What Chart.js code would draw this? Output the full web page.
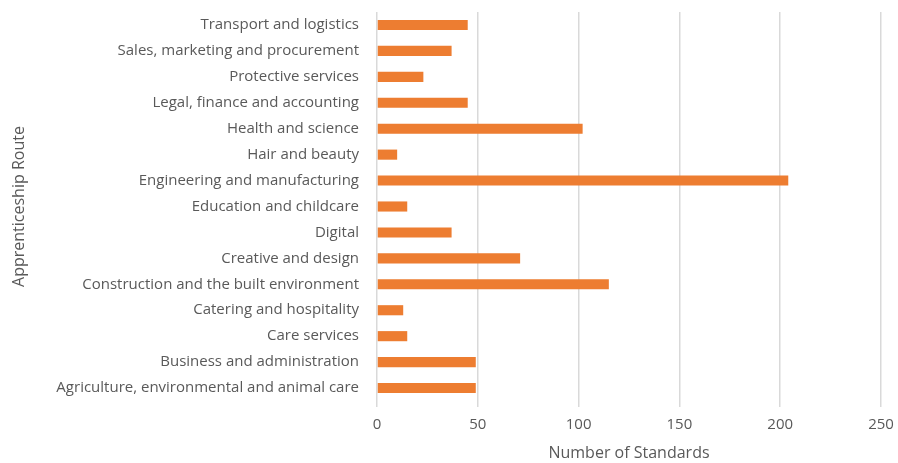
<!DOCTYPE html>
<html>
<head>
<meta charset="utf-8">
<script src="https://cdn.jsdelivr.net/npm/chart.js@4/dist/chart.umd.min.js"></script>
<style>
html,body{margin:0;padding:0;background:#fff;}
#wrap{width:898px;height:463px;position:relative;}
</style>
</head>
<body>
<div id="wrap"><canvas id="c" width="898" height="463"></canvas></div>
<script>
const routes = [
  "Transport and logistics",
  "Sales, marketing and procurement",
  "Protective services",
  "Legal, finance and accounting",
  "Health and science",
  "Hair and beauty",
  "Engineering and manufacturing",
  "Education and childcare",
  "Digital",
  "Creative and design",
  "Construction and the built environment",
  "Catering and hospitality",
  "Care services",
  "Business and administration",
  "Agriculture, environmental and animal care"
];
const standards = [45, 37, 23, 45, 102, 10, 204, 15, 37, 71, 115, 13, 15, 49, 49];
const xTicks = [0, 50, 100, 150, 200, 250];

const FONT = "'Open Sans', Lato, sans-serif";
const TXT = "#595959";

new Chart(document.getElementById('c'), {
  type: 'bar',
  data: {
    labels: routes,
    datasets: [{
      data: standards,
      backgroundColor: '#ED7D31',
      borderWidth: 0,
      barPercentage: 0.39,
      categoryPercentage: 1.0
    }]
  },
  options: {
    indexAxis: 'y',
    responsive: false,
    animation: false,
    devicePixelRatio: 1,
    layout: { padding: { left: 10, right: 17, top: 12, bottom: 0 } },
    plugins: { legend: { display: false }, tooltip: { enabled: false } },
    scales: {
      x: {
        min: 0, max: 250,
        afterBuildTicks: (s) => { s.ticks = xTicks.map(v => ({ value: v })); },
        grid: { color: '#d9d9d9', lineWidth: 1.5, drawTicks: true, tickLength: 6, tickColor: '#d9d9d9' },
        border: { display: false },
        ticks: { color: TXT, font: { family: FONT, size: 15 }, padding: 9 },
        title: { display: true, text: 'Number of Standards', color: TXT, font: { family: FONT, size: 16 }, padding: { top: 6, bottom: 0 } },
        afterFit: (s) => { s.height = 62; s.paddingLeft = 0; s.paddingRight = 0; }
      },
      y: {
        grid: { display: false },
        border: { display: false },
        ticks: { color: TXT, font: { family: FONT, size: 15 }, padding: 10, autoSkip: false },
        title: { display: true, text: 'Apprenticeship Route', color: TXT, font: { family: FONT, size: 16 }, padding: { top: 0, bottom: 0 } },
        afterFit: (s) => { s.width = 367; s.paddingTop = 0; s.paddingBottom = 0; }
      }
    }
  }
});
</script>
</body>
</html>
